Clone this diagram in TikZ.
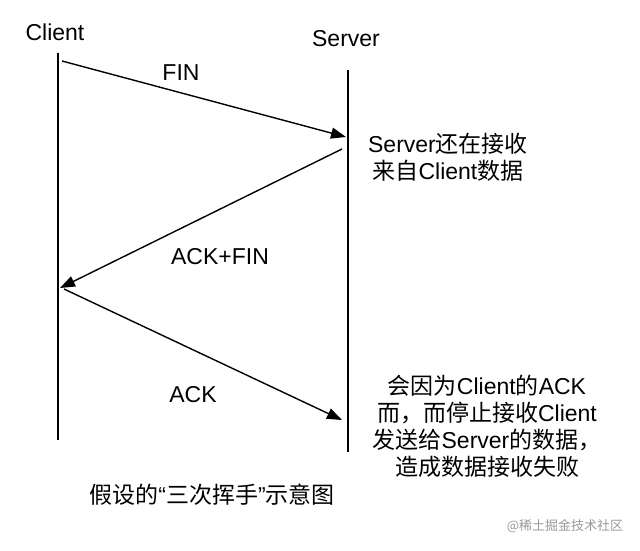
\documentclass[tikz,border=0pt]{standalone}
\usepackage{fontspec}
\setmainfont{Liberation Sans}
\newfontfamily\cjk{Noto Sans CJK SC}
\newcommand{\zh}[1]{{\cjk #1}}
\usetikzlibrary{arrows.meta}
\begin{document}
\begin{tikzpicture}[x=1pt,y=-1pt,
  lbl/.style={font=\fontsize{23}{27}\selectfont, inner sep=0pt, text=black},
  note/.style={font=\fontsize{23}{27}\selectfont, inner sep=0pt, align=center, text=black},
  life/.style={line width=1.4pt},
  msg/.style={line width=1.4pt, -{Triangle[length=15pt,width=11pt]}}]
\useasboundingbox[fill=white] (0,0) rectangle (640,550);
\node[lbl] (client) at (55,32) {Client};
\node[lbl] (server) at (346,39) {Server};
\coordinate (c0) at (58,53);
\coordinate (c1) at (58,440);
\coordinate (s0) at (348,70);
\coordinate (s1) at (348,452);
\draw[life] (c0) -- (c1);
\draw[life] (s0) -- (s1);
\coordinate (a1) at (62,61);
\coordinate (b1) at (346,137);
\coordinate (a2) at (342,149);
\coordinate (b2) at (60,288);
\coordinate (a3) at (64,289);
\coordinate (b3) at (342,420);
\draw[msg] (a1) -- (b1);
\draw[msg] (a2) -- (b2);
\draw[msg] (a3) -- (b3);
\node[lbl] (fin) at (181,73) {FIN};
\node[lbl] (ackfin) at (220,257) {ACK+FIN};
\node[lbl] (ack) at (193,395) {ACK};
\node[note] (n1) at (448,157) {Server\zh{还在接收}\\\zh{来自}Client\zh{数据}};
\node[note] (n2) at (487,426) {\zh{会因为}Client\zh{的}ACK\\\zh{而，而停止接收}Client\\\zh{发送给}Server\zh{的数据，}\\\zh{造成数据接收失败}};
\node[lbl] (cap) at (212,495) {\zh{假设的}“\zh{三次挥手}”\zh{示意图}};
\node[font=\fontsize{13}{15}\selectfont\cjk, text=black!40, inner sep=0pt] (wm) at (565,526) {@稀土掘金技术社区};
\end{tikzpicture}
\end{document}
